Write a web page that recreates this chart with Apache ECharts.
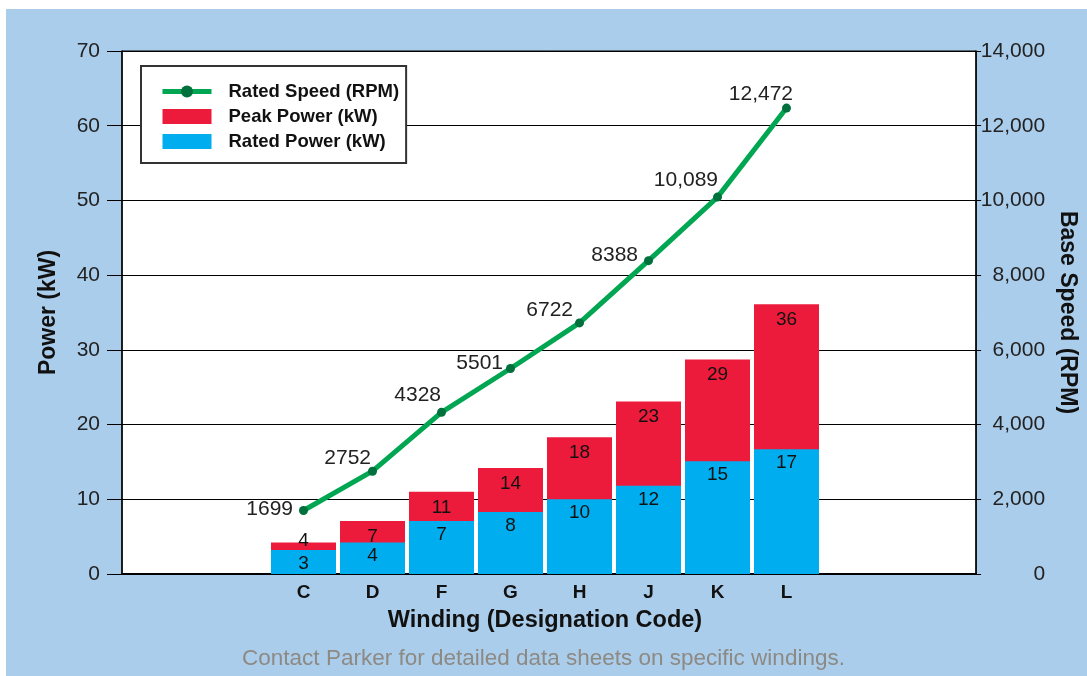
<!DOCTYPE html>
<html><head><meta charset="utf-8">
<script src="https://cdn.jsdelivr.net/npm/echarts@6/dist/echarts.min.js"></script>
<style>
html,body{margin:0;padding:0;background:#fff;overflow:hidden;}
#bg{position:absolute;left:6px;top:9px;right:0;bottom:0;background:#abcdec;}
#chart{position:absolute;left:0;top:0;width:1087px;height:676px;}
</style></head><body>
<div id="bg"></div><div id="chart"></div>
<script>
// ---- data ----
const categories = ['C', 'D', 'F', 'G', 'H', 'J', 'K', 'L'];
const ratedPower = [3.2, 4.2, 7.1, 8.3, 10.0, 11.8, 15.1, 16.7];
const peakPower = [4.2, 7.1, 11.0, 14.2, 18.3, 23.1, 28.7, 36.1];
const ratedSpeed = [1699, 2752, 4328, 5501, 6722, 8388, 10089, 12472];
const powerTicks = [0, 10, 20, 30, 40, 50, 60, 70];
const speedTicks = [0, 2000, 4000, 6000, 8000, 10000, 12000, 14000];
const seriesNames = ['Rated Speed (RPM)', 'Peak Power (kW)', 'Rated Power (kW)'];
const footerText = 'Contact Parker for detailed data sheets on specific windings.';

// ---- chart ----
const F = "'Liberation Sans', Arial, Helvetica, sans-serif";
const chart = echarts.init(document.getElementById('chart'), null, {renderer: 'canvas'});
const speedFmt = v => (v >= 10000 ? v.toLocaleString('en-US') : String(v));
const labelNudge = [[-4, -1], [5, -13], [6, -17], [-1, -5], [0, -13], [-4, -5], [7, -17], [13, -14]];

const option = {
  animation: false,
  backgroundColor: 'transparent',
  textStyle: {fontFamily: F},
  grid: [
    {left: 122, right: 110, top: 51, bottom: 102, show: true, backgroundColor: '#fff', borderColor: '#000', borderWidth: 1},
    {left: 269, right: 266, top: 51, bottom: 102}
  ],
  xAxis: [
    {gridIndex: 0, type: 'value', min: 0, max: 1, axisLine: {show: true, onZero: false, lineStyle: {color: '#000', width: 2}},
     axisTick: {show: false}, axisLabel: {show: false}, splitLine: {show: false}},
    {gridIndex: 1, type: 'category', data: categories, axisLine: {show: false}, axisTick: {show: false},
     axisLabel: {fontSize: 19, fontWeight: 'bold', color: '#111', margin: 9, fontFamily: F},
     name: 'Winding (Designation Code)', nameLocation: 'middle', nameGap: 35,
     nameTextStyle: {fontSize: 23.5, fontWeight: 'bold', color: '#111', fontFamily: F}}
  ],
  yAxis: [
    {gridIndex: 0, type: 'value', min: powerTicks[0], max: powerTicks[powerTicks.length - 1], interval: powerTicks[1] - powerTicks[0], position: 'left',
     axisLine: {show: true, lineStyle: {color: '#000', width: 1.5}},
     axisTick: {show: true, length: 15, lineStyle: {color: '#000', width: 1}},
     axisLabel: {fontSize: 21, color: '#222', margin: 22, fontFamily: F},
     splitLine: {show: true, lineStyle: {color: '#000', width: 1}},
     name: 'Power (kW)', nameLocation: 'middle', nameGap: 62, nameRotate: 90,
     nameTextStyle: {fontSize: 23, fontWeight: 'bold', color: '#111', fontFamily: F}},
    {gridIndex: 0, type: 'value', min: speedTicks[0], max: speedTicks[speedTicks.length - 1], interval: speedTicks[1] - speedTicks[0], position: 'right',
     axisLine: {show: true, lineStyle: {color: '#000', width: 1.5}},
     axisTick: {show: true, length: 5, lineStyle: {color: '#000', width: 1}},
     axisLabel: {fontSize: 21, color: '#222', margin: 69, align: 'right', fontFamily: F, formatter: v => v.toLocaleString('en-US')},
     splitLine: {show: false},
     name: 'Base Speed (RPM)', nameLocation: 'middle', nameGap: 65, nameRotate: -90,
     nameTextStyle: {fontSize: 23, fontWeight: 'bold', color: '#111', fontFamily: F}},
    {gridIndex: 1, type: 'value', min: powerTicks[0], max: powerTicks[powerTicks.length - 1], show: false},
    {gridIndex: 1, type: 'value', min: speedTicks[0], max: speedTicks[speedTicks.length - 1], show: false}
  ],
  legend: {
    orient: 'vertical', left: 141, top: 66,
    data: [{name: seriesNames[0]}, {name: seriesNames[1], icon: 'rect'}, {name: seriesNames[2], icon: 'rect'}],
    itemWidth: 49, itemHeight: 15, itemGap: 6, padding: [16, 7, 12, 19],
    lineStyle: {width: 5},
    backgroundColor: '#fff', borderColor: '#333', borderWidth: 2, borderRadius: 0,
    textStyle: {fontSize: 18.5, fontWeight: 'bold', color: '#111', fontFamily: F, padding: [0, 0, 0, 12]}
  },
  graphic: [{
    type: 'text', left: 'center', top: 647,
    style: {text: footerText, fontSize: 22.5, fill: '#8d8983', fontFamily: F}
  }],
  series: [
    {name: seriesNames[0], type: 'line', xAxisIndex: 1, yAxisIndex: 3, z: 5,
     data: ratedSpeed.map((v, i) => ({value: v, label: {offset: labelNudge[i]}})),
     lineStyle: {color: '#00a651', width: 5}, itemStyle: {color: '#00703c'},
     symbol: 'circle', symbolSize: 9,
     label: {show: true, position: 'left', distance: 2, fontSize: 21, color: '#222', fontFamily: F,
             formatter: p => speedFmt(p.value)}},
    {name: seriesNames[1], type: 'bar', xAxisIndex: 1, yAxisIndex: 2, data: peakPower.map((v, i) => i === 0 ? {value: v, label: {offset: [0, -17]}} : v),
     barWidth: 65, barGap: '-100%', itemStyle: {color: '#ed1b3b'},
     label: {show: true, position: 'insideTop', distance: 6, fontSize: 19, color: '#111', fontFamily: F,
             formatter: p => Math.round(p.value)}},
    {name: seriesNames[2], type: 'bar', xAxisIndex: 1, yAxisIndex: 2, data: ratedPower,
     barWidth: 65, barGap: '-100%', itemStyle: {color: '#00aeef'},
     label: {show: true, position: 'insideTop', distance: 4, fontSize: 19, color: '#111', fontFamily: F,
             formatter: p => Math.round(p.value)}}
  ]
};
chart.setOption(option);
</script>
</body></html>
